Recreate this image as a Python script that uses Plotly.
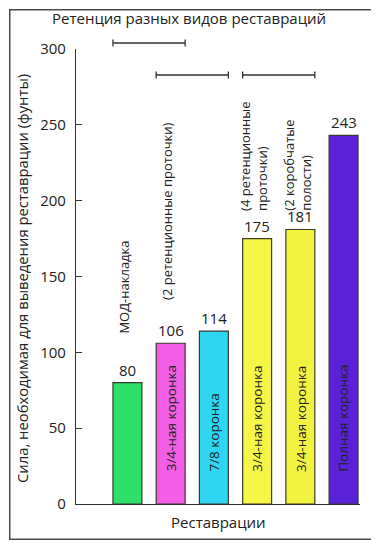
import plotly.graph_objects as go

# ---- data ----
values = [80, 106, 114, 175, 181, 243]
inside_labels = ["", "3/4-ная коронка", "7/8 коронка", "3/4-ная коронка", "3/4-ная коронка", "Полная коронка"]
above_labels = ["МОД-накладка", "(2 ретенционные проточки)", "", "(4 ретенционные<br>проточки)", "(2 коробчатые<br>полости)", ""]
bar_colors = ["#2ee06a", "#f25fe6", "#2fd6f2", "#f6f646", "#f2f240", "#5a22d6"]
brackets = [(0, 1), (1, 2), (3, 4)]
y_ticks = [0, 50, 100, 150, 200, 250, 300]
title = "Ретенция разных видов реставраций"
y_title = "Сила, необходимая для выведения реставрации (фунты)"
x_title = "Реставрации"

W, H = 379, 543
OFF = 8  # page body margin offset of the rendered figure
L, T = 76 - OFF, 49 - OFF
R, B = W - (360 - OFF), H - (504 - OFF)
FONT = "Open Sans"
TXT = "#222222"
bw = 0.67
xs = list(range(len(values)))
above_pos = [111, 133, None, 192, 192, None]

pw, ph = W - L - R, H - T - B
def py(p):
    return (H - B - (p - OFF)) / ph
def px(p):
    return ((p - OFF) - L) / pw

fig = go.Figure()
fig.add_trace(go.Bar(
    x=xs, y=values, width=bw,
    marker=dict(color=bar_colors, line=dict(color="#3b3b2e", width=1.2)),
    hoverinfo="skip", showlegend=False,
))

ann = []
# outer frame drawn as an empty bordered annotation box
fx0, fx1, fy0, fy1 = 9, 375, 9, 539
ann.append(dict(x=px((fx0 + fx1) / 2), y=py((fy0 + fy1) / 2), xref="paper", yref="paper",
                text=" ", showarrow=False, xanchor="center", yanchor="middle",
                width=fx1 - fx0 - 2, height=fy1 - fy0 - 2, borderpad=0,
                bordercolor="#4a4a4a", borderwidth=1.5))

for i, v in enumerate(values):
    ann.append(dict(x=i, y=v, xref="x", yref="y", text=str(v), showarrow=False,
                    yanchor="bottom", yshift=1, font=dict(size=15, color=TXT, family=FONT)))
    if inside_labels[i]:
        ann.append(dict(x=i, y=20, xref="x", yref="y", text=inside_labels[i], showarrow=False,
                        textangle=-90, yanchor="bottom", xanchor="center",
                        font=dict(size=13.5, color=TXT, family=FONT)))
    if above_labels[i]:
        ann.append(dict(x=i, y=above_pos[i], xref="x", yref="y", text=above_labels[i], showarrow=False,
                        textangle=-90, yanchor="bottom", xanchor="center", align="left",
                        xshift=-3, font=dict(size=13, color=TXT, family=FONT)))

ann.append(dict(x=px(189), y=py(18), xref="paper", yref="paper", text=title, showarrow=False,
                xanchor="center", yanchor="middle", font=dict(size=15, color=TXT, family=FONT)))
ann.append(dict(x=px(22), y=py(279), xref="paper", yref="paper", text=y_title, showarrow=False,
                textangle=-90, xanchor="center", yanchor="middle", font=dict(size=14.8, color=TXT, family=FONT)))
ann.append(dict(x=px(218), y=py(522), xref="paper", yref="paper", text=x_title, showarrow=False,
                xanchor="center", yanchor="middle", font=dict(size=15, color=TXT, family=FONT)))

shapes = []
bracket_y = [py(43), py(75), py(75)]
for (a, b), yy in zip(brackets, bracket_y):
    x0, x1 = a - bw / 2, b + bw / 2
    shapes.append(dict(type="line", xref="x", yref="paper", x0=x0, x1=x1, y0=yy, y1=yy,
                       line=dict(color="#333333", width=1.3)))
    for xx in (x0, x1):
        shapes.append(dict(type="line", xref="x", yref="paper", x0=xx, x1=xx,
                           y0=yy - 3.5 / ph, y1=yy + 3.5 / ph, line=dict(color="#333333", width=1.3)))

fig.update_layout(
    width=W, height=H,
    margin=dict(l=L, r=R, t=T, b=B, autoexpand=False),
    paper_bgcolor="white", plot_bgcolor="white",
    font=dict(family=FONT, color=TXT),
    annotations=ann, shapes=shapes,
    xaxis=dict(range=[-1.19, 5.38], showline=True, linecolor="#333333", linewidth=1.2,
               showticklabels=False, ticks="", showgrid=False, zeroline=False, automargin=False),
    yaxis=dict(range=[0, 300], tickvals=y_ticks, showline=True, linecolor="#333333", linewidth=1.2,
               ticks="inside", ticklen=6, tickcolor="#333333", tickwidth=1.2,
               showgrid=False, zeroline=False, ticklabelstandoff=6, automargin=False,
               tickfont=dict(size=15, color=TXT, family=FONT)),
)

fig.write_html("out.html")
